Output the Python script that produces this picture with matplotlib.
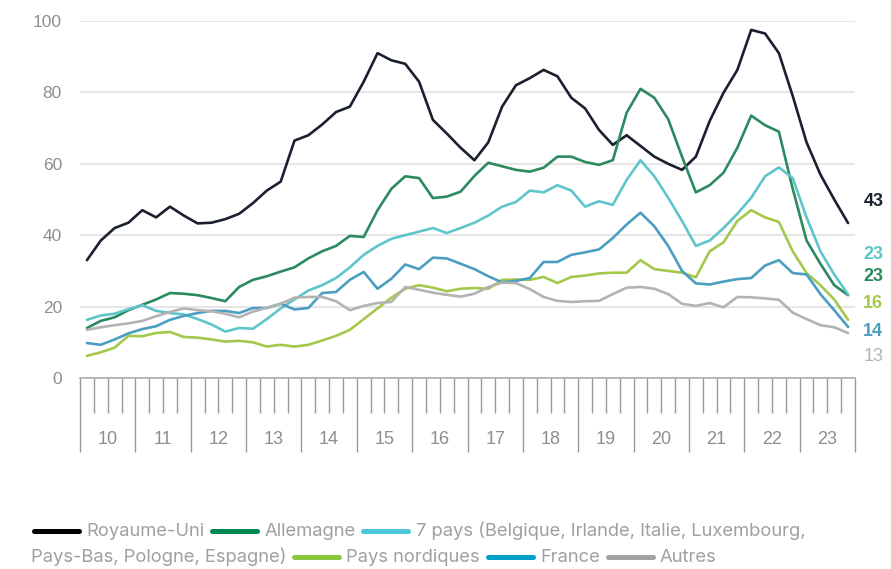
import numpy as np
import matplotlib
matplotlib.use("Agg")
import matplotlib.pyplot as plt
from matplotlib import font_manager
from matplotlib.lines import Line2D

# ---------------- data (quarterly, 2010 Q1 .. 2023 Q4) ----------------
start_year = 2010
n_quarters = 56
year_labels = ["10", "11", "12", "13", "14", "15", "16", "17", "18", "19", "20", "21", "22", "23"]

royaume_uni = [33, 38.5, 42, 43.5, 47, 45, 48, 45.5, 43.3, 43.5, 44.5, 46, 49, 52.5, 55, 66.5,
               68, 71, 74.5, 76, 83, 91, 89, 88, 83, 72.3, 68.5, 64.5, 61, 66, 76, 82,
               84, 86.3, 84.5, 78.5, 75.5, 69.5, 65.3, 68, 65, 62, 60, 58.3, 62, 72,
               79.9, 86.3, 97.5, 96.5, 91, 79, 66, 57, 50, 43.4]
allemagne = [14, 16, 17, 19, 20.5, 22, 23.8, 23.6, 23.2, 22.4, 21.5, 25.5, 27.5, 28.5, 29.8, 31,
             33.5, 35.5, 37, 39.8, 39.5, 47, 53, 56.5, 56, 50.4, 50.8, 52.2, 56.6, 60.3, 59.3, 58.3,
             57.8, 58.9, 62, 62, 60.5, 59.7, 61, 74.3, 81, 78.5, 72.5, 62, 52, 54,
             57.5, 64.5, 73.5, 70.8, 69, 53, 38.5, 32, 26, 23.2]
sept_pays = [16.3, 17.5, 18, 19.3, 20.4, 18.8, 18.2, 17.8, 16.5, 15, 13, 14, 13.8, 16.5, 19.5, 22,
             24.5, 26, 28, 31, 34.5, 37, 39, 40, 41, 42, 40.6, 42, 43.5, 45.5, 48, 49.3,
             52.5, 52, 54, 52.5, 48, 49.5, 48.5, 55.5, 61, 56.5, 50.5, 44, 37, 38.5,
             42, 46, 50.5, 56.5, 59, 56, 45, 35.5, 29, 23.4]
nordiques = [6.2, 7.2, 8.5, 11.8, 11.7, 12.6, 12.9, 11.5, 11.3, 10.8, 10.2, 10.4, 10, 8.8, 9.3, 8.8,
             9.3, 10.5, 11.8, 13.5, 16.5, 19.5, 22.5, 25, 26, 25.3, 24.3, 25, 25.2, 25, 27.5, 27.6,
             27.5, 28.3, 26.6, 28.3, 28.7, 29.3, 29.5, 29.5, 33, 30.5, 30, 29.5, 28.2, 35.5,
             38, 44, 47, 45, 43.7, 35.5, 29.4, 26, 22, 16.3]
france = [9.8, 9.3, 10.8, 12.5, 13.7, 14.5, 16.3, 17.4, 18.2, 18.8, 18.8, 18.2, 19.6, 19.6, 20.8, 19.2,
          19.6, 23.8, 24.1, 27.5, 29.7, 25, 27.8, 31.8, 30.5, 33.7, 33.5, 32, 30.5, 28.5, 26.8, 27.2,
          28, 32.5, 32.5, 34.5, 35.2, 36, 39.2, 43, 46.3, 42.5, 37, 30, 26.5, 26.2,
          27, 27.7, 28, 31.5, 33, 29.4, 29, 23.5, 19, 14.3]
autres = [13.5, 14.2, 14.8, 15.3, 16, 17.3, 18.5, 19.5, 19, 18.7, 18, 17, 18.6, 19.7, 20.8, 22.5,
          22.7, 22.7, 21.5, 19, 20.2, 21, 21.3, 25.5, 24.7, 23.9, 23.3, 22.8, 23.6, 25.5, 26.7, 26.6,
          24.9, 22.7, 21.6, 21.3, 21.5, 21.6, 23.5, 25.3, 25.5, 25, 23.5, 20.8, 20.2, 21,
          19.8, 22.7, 22.6, 22.3, 21.9, 18.3, 16.5, 14.8, 14.2, 12.6]

series_names = ["Royaume-Uni", "Allemagne",
                "7 pays (Belgique, Irlande, Italie, Luxembourg, Pays-Bas, Pologne, Espagne)",
                "Pays nordiques", "France", "Autres"]
series_values = [royaume_uni, allemagne, sept_pays, nordiques, france, autres]

# ---------------- styles ----------------
line_colors = ["#1b2030", "#2b8a5e", "#5ec6ca", "#a4c84c", "#4b9ec2", "#b3b3b3"]
legend_colors = ["#000000", "#00874f", "#4cc6d8", "#8cc63f", "#00a0c8", "#a2a4a4"]
label_colors = ["#1b2030", "#5ec6ca", "#2b8a5e", "#a4c84c", "#4b9ec2", "#b3b3b3"]
end_label_order = [0, 2, 1, 3, 4, 5]
end_label_y = [49.5, 34.6, 28.3, 21.0, 12.9, 5.9]

names = {f.name for f in font_manager.fontManager.ttflist}
main_font = "Liberation Sans" if "Liberation Sans" in names else "DejaVu Sans"
legend_font = "Inter" if "Inter" in names else main_font

plt.rcParams["font.family"] = [main_font, "DejaVu Sans"]

W, H = 891, 569
fig = plt.figure(figsize=(W / 100, H / 100), dpi=100)
fig.patch.set_facecolor("white")

ax_left, ax_right, ax_top, ax_bottom = 80, 855, 21, 378
ax = fig.add_axes([ax_left / W, 1 - ax_bottom / H, (ax_right - ax_left) / W, (ax_bottom - ax_top) / H])

t = start_year + 0.125 + 0.25 * np.arange(n_quarters)

for vals, col in zip(series_values, line_colors):
    ax.plot(t, vals, color=col, lw=1.9, solid_joinstyle="round", solid_capstyle="round",
            clip_on=False, zorder=3)

ax.set_xlim(start_year, start_year + len(year_labels))
ax.set_ylim(0, 100)

ax.set_yticks([0, 20, 40, 60, 80, 100])
ax.set_yticklabels(["0", "20", "40", "60", "80", "100"])
ax.yaxis.grid(True, color="#e2e2e2", lw=1.2)
ax.set_axisbelow(True)
ax.tick_params(axis="y", length=0, pad=13, labelsize=12.5, labelcolor="#8e8e8e")

for s in ["top", "right", "left"]:
    ax.spines[s].set_visible(False)
ax.spines["bottom"].set_color("#a8a8a8")
ax.spines["bottom"].set_linewidth(1.1)

years = np.arange(start_year, start_year + len(year_labels) + 1)
ax.set_xticks(years)
ax.set_xticklabels([""] * len(years))
quarters = [y + q for y in years[:-1] for q in (0.25, 0.5, 0.75)]
ax.set_xticks(quarters, minor=True)
ax.tick_params(axis="x", which="major", direction="out", length=53, width=1.0, color="#9a9a9a")
ax.tick_params(axis="x", which="minor", direction="out", length=25, width=1.0, color="#9a9a9a")

for i, lab in enumerate(year_labels):
    ax.annotate(lab, xy=(start_year + i + 0.5, 0), xycoords="data",
                xytext=(0, -44.5), textcoords="offset points",
                ha="center", va="center", fontsize=13, color="#8e8e8e",
                annotation_clip=False)

for pos, idx in enumerate(end_label_order):
    v = series_values[idx][-1]
    ax.annotate(f"{v:.0f}", xy=(1, end_label_y[pos]), xycoords=("axes fraction", "data"),
                xytext=(6, 0), textcoords="offset points", ha="left", va="center",
                fontsize=13, fontweight=("normal" if idx == 5 else "bold"),
                color=label_colors[pos], annotation_clip=False)

# ---------------- flowing legend ----------------
renderer = fig.canvas.get_renderer()
long_part1 = "7 pays (Belgique, Irlande, Italie, Luxembourg,"
long_part2 = "Pays-Bas, Pologne, Espagne)"
probe = fig.text(0, 0, long_part1, fontsize=12, family=[legend_font, "DejaVu Sans"])
pw = probe.get_window_extent(renderer).width
probe.remove()
leg_size = max(10.0, min(15.0, 12 * 392 / pw))

leg_rows = [
    [("h", 0), ("t", series_names[0]), ("h", 1), ("t", series_names[1]), ("h", 2), ("t", long_part1)],
    [("t", long_part2), ("h", 3), ("t", series_names[3]), ("h", 4),
     ("t", series_names[4]), ("h", 5), ("t", series_names[5])],
]
row_y = [531, 557]
handle_w = 50
lw_h = 3.6
cap = lw_h / 0.72 / 2  # round cap extension in px
for row, ypix in zip(leg_rows, row_y):
    x = 31
    yf = 1 - ypix / H
    for kind, item in row:
        if kind == "h":
            fig.add_artist(Line2D([(x + cap) / W, (x + handle_w - cap) / W], [yf, yf],
                                  transform=fig.transFigure, color=legend_colors[item],
                                  lw=lw_h, solid_capstyle="round"))
            x += handle_w + 5
        else:
            txt = fig.text(x / W, yf, item, ha="left", va="center", fontsize=leg_size,
                           color="#a0a0a0", family=[legend_font, "DejaVu Sans"])
            bb = txt.get_window_extent(renderer)
            x += bb.width + 5

fig.savefig("out.png", dpi=100, facecolor="white")
